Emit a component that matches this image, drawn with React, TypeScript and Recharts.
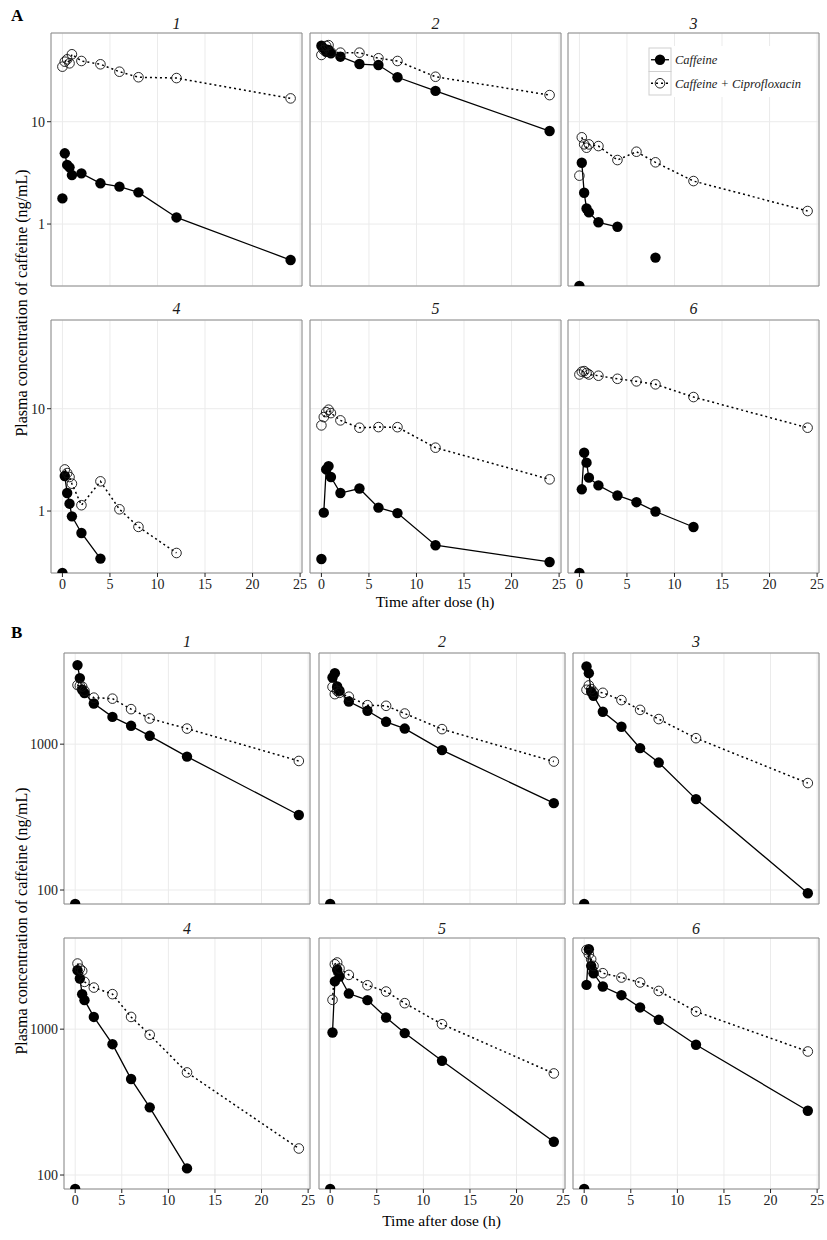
import React from "react";
import {
  ComposedChart,
  Line,
  Scatter,
  XAxis,
  YAxis,
  CartesianGrid,
  ReferenceArea,
} from "recharts";

// ---------- data ----------
const TIMES = [0, 0.25, 0.5, 0.75, 1, 2, 4, 6, 8, 12, 24];
const X_TICKS = [0, 5, 10, 15, 20, 25];
const X_DOMAIN: [number, number] = [-1.2, 25.2];
const PANEL_TITLES = ["1", "2", "3", "4", "5", "6"];
const SERIES_NAMES = ["Caffeine", "Caffeine + Ciprofloxacin"];
const PART_LABELS = ["A", "B"];
const Y_TITLE = "Plasma concentration of caffeine (ng/mL)";
const X_TITLE = "Time after dose (h)";

// Part A (log scale)
const A_Y_TICKS = [1, 10];
const A_Y_DOMAIN: [number, number] = [0.248, 73.6];
const A1_CAF = [1.78, 4.91, 3.78, 3.58, 3.01, 3.13, 2.5, 2.32, 2.04, 1.16, 0.445];
const A1_CIP = [34.5, 38.6, 40.7, 37.2, 45.6, 39.2, 36.4, 30.8, 27.2, 26.7, 16.9];
const A2_CAF = [55.3, 52.1, 48.3, 50.2, 46.6, 43.2, 36.6, 35.8, 27.2, 20.0, 8.11];
const A2_CIP = [44.9, 50.2, 55.0, 56.0, 48.0, 47.3, 47.3, 41.7, 39.2, 27.5, 18.2];
const A3_CAF = [0, 3.97, 2.02, 1.42, 1.3, 1.04, 0.94, null, 0.47, null, null];
const A3_CIP = [2.97, 7.04, 6.01, 5.57, 6.0, 5.78, 4.22, 5.09, 4.01, 2.63, 1.34];
const A4_CAF = [0, 2.2, 1.5, 1.18, 0.887, 0.61, 0.343, null, null, null, null];
const A4_CIP = [null, 2.55, 2.35, 2.15, 1.85, 1.14, 1.95, 1.04, 0.7, 0.389, null];
const A5_CAF = [0.34, 0.964, 2.55, 2.75, 2.15, 1.5, 1.66, 1.08, 0.955, 0.463, 0.318];
const A5_CIP = [6.87, 8.28, 9.27, 9.78, 9.06, 7.69, 6.52, 6.61, 6.6, 4.16, 2.04];
const A6_CAF = [0, 1.63, 3.72, 2.97, 2.12, 1.78, 1.42, 1.22, 0.99, 0.698, null];
const A6_CIP = [21.6, 23.0, 23.3, 22.3, 21.6, 21.0, 19.6, 18.5, 17.3, 13.0, 6.52];

// Part B (log scale)
const B_Y_TICKS = [100, 1000];
const B_Y_DOMAIN: [number, number] = [80.2, 4217];
const B1_CAF = [0, 3483, 2838, 2360, 2240, 1900, 1538, 1336, 1141, 822, 327];
const B1_CIP = [null, 2540, 2512, 2483, 2322, 2084, 2051, 1738, 1499, 1279, 767];
const B2_CAF = [0, 2864, 3069, 2483, 2322, 1960, 1693, 1423, 1279, 910, 394];
const B2_CIP = [null, 2471, 2203, 2322, 2250, 2115, 1850, 1832, 1622, 1268, 760];
const B3_CAF = [0, 3411, 3069, 2285, 2147, 1667, 1316, 939, 748, 420, 95];
const B3_CIP = [null, 2360, 2528, 2383, 2285, 2249, 2005, 1718, 1486, 1099, 541];
const B4_CAF = [0, 2535, 2225, 1738, 1581, 1213, 789, 455, 291, 111, null];
const B4_CIP = [null, 2818, 2600, 2512, 2110, 1928, 1738, 1213, 915, 505, 152];
const B5_CAF = [0, 948, 2125, 2553, 2296, 1754, 1581, 1202, 940, 607, 169];
const B5_CIP = [null, 1589, 2786, 2864, 2606, 2355, 2000, 1811, 1507, 1081, 497];
const B6_CAF = [0, 2011, 3532, 2716, 2419, 1960, 1710, 1409, 1159, 782, 276];
const B6_CIP = [null, 3491, 3264, 3016, 2716, 2419, 2259, 2089, 1828, 1321, 703];

const A_CAF = [A1_CAF, A2_CAF, A3_CAF, A4_CAF, A5_CAF, A6_CAF];
const A_CIP = [A1_CIP, A2_CIP, A3_CIP, A4_CIP, A5_CIP, A6_CIP];
const B_CAF = [B1_CAF, B2_CAF, B3_CAF, B4_CAF, B5_CAF, B6_CAF];
const B_CIP = [B1_CIP, B2_CIP, B3_CIP, B4_CIP, B5_CIP, B6_CIP];

// ---------- styling / layout ----------
const FONT = '"Liberation Serif", "Times New Roman", serif';
const TICK_COLOR = "#222222";
const GRID_COLOR = "#ebebeb";
const BORDER_COLOR = "#8a8a8a";
const X_AXIS_H = 24;
const RIGHT_PAD = 8;

type Layout = {
  lefts: number[];
  tops: number[];
  w: number;
  h: number;
  yW: number;
};
const A_LAYOUT: Layout = { lefts: [51, 310, 568], tops: [33, 320], w: 251, h: 253, yW: 40 };
const B_LAYOUT: Layout = { lefts: [64, 319, 573], tops: [653, 938], w: 246, h: 251, yW: 52 };

type Val = number | null;

function toPoints(arr: Val[], floor: number) {
  const out: { t: number; v: number }[] = [];
  TIMES.forEach((t, i) => {
    const v = arr[i];
    if (v === null || v === undefined) return;
    out.push({ t, v: v === 0 ? floor : v });
  });
  return out;
}

function toLine(arr: Val[]) {
  return TIMES.map((t, i) => ({ t, v: arr[i] }))
    .filter((p) => p.t > 0)
    .map((p) => ({ t: p.t, v: p.v === 0 || p.v === undefined ? null : p.v }));
}

const FilledDot = (p: any) =>
  p.cx == null || p.cy == null ? <g /> : <circle cx={p.cx} cy={p.cy} r={5.2} fill="#000" />;
const OpenDot = (p: any) =>
  p.cx == null || p.cy == null ? (
    <g />
  ) : (
    <circle cx={p.cx} cy={p.cy} r={4.8} fill="none" stroke="#111" strokeWidth={0.9} />
  );

type PanelProps = {
  caf: Val[];
  cip: Val[];
  left: number;
  top: number;
  w: number;
  h: number;
  yDomain: [number, number];
  yTicks: number[];
  showY: boolean;
  showX: boolean;
  yW: number;
};

function Panel({ caf, cip, left, top, w, h, yDomain, yTicks, showY, showX, yW }: PanelProps) {
  const padL = showY ? yW : 1;
  const cw = padL + w + RIGHT_PAD;
  const ch = 1 + h + (showX ? X_AXIS_H : 1);
  const tickStyle = { fill: TICK_COLOR, fontSize: 14, fontFamily: FONT };
  return (
    <div style={{ position: "absolute", left: left - padL, top: top - 1 }}>
      <ComposedChart
        width={cw}
        height={ch}
        margin={{ top: 1, right: RIGHT_PAD, bottom: showX ? 0 : 1, left: showY ? 0 : 1 }}
      >
        <CartesianGrid stroke={GRID_COLOR} strokeWidth={1} />
        <XAxis
          type="number"
          dataKey="t"
          domain={X_DOMAIN}
          ticks={X_TICKS}
          allowDataOverflow
          interval={0}
          hide={!showX}
          height={X_AXIS_H}
          axisLine={false}
          tickLine={{ stroke: TICK_COLOR }}
          tickSize={4}
          tickMargin={2}
          tick={tickStyle}
        />
        <YAxis
          type="number"
          scale="log"
          domain={yDomain}
          ticks={yTicks}
          allowDataOverflow
          interval={0}
          hide={!showY}
          width={yW}
          axisLine={false}
          tickLine={{ stroke: TICK_COLOR }}
          tickSize={4}
          tickMargin={2}
          tick={tickStyle}
        />
        <Line
          data={toLine(caf)}
          dataKey="v"
          type="linear"
          stroke="#000"
          strokeWidth={1.3}
          dot={false}
          activeDot={false}
          connectNulls={false}
          isAnimationActive={false}
        />
        <Line
          data={toLine(cip)}
          dataKey="v"
          type="linear"
          stroke="#000"
          strokeWidth={1.5}
          strokeDasharray="2 3"
          dot={false}
          activeDot={false}
          connectNulls={false}
          isAnimationActive={false}
        />
        <Scatter data={toPoints(caf, yDomain[0])} dataKey="v" shape={FilledDot} isAnimationActive={false} />
        <Scatter data={toPoints(cip, yDomain[0])} dataKey="v" shape={OpenDot} isAnimationActive={false} />
        <ReferenceArea
          x1={X_DOMAIN[0]}
          x2={X_DOMAIN[1]}
          y1={yDomain[0]}
          y2={yDomain[1]}
          fill="none"
          fillOpacity={0}
          stroke={BORDER_COLOR}
          strokeWidth={1}
          ifOverflow="visible"
        />
      </ComposedChart>
    </div>
  );
}

function Part({
  layout,
  caf,
  cip,
  yDomain,
  yTicks,
}: {
  layout: Layout;
  caf: Val[][];
  cip: Val[][];
  yDomain: [number, number];
  yTicks: number[];
}) {
  const panels = [];
  for (let i = 0; i < 6; i++) {
    const r = Math.floor(i / 3);
    const c = i % 3;
    panels.push(
      <Panel
        key={i}
        caf={caf[i]}
        cip={cip[i]}
        left={layout.lefts[c]}
        top={layout.tops[r]}
        w={layout.w}
        h={layout.h}
        yDomain={yDomain}
        yTicks={yTicks}
        showY={c === 0}
        showX={r === 1}
        yW={layout.yW}
      />
    );
  }
  return <>{panels}</>;
}

function TextsFor(layout: Layout, partLabel: string, labelY: number, stripYs: number[], xTitleY: number) {
  const items: React.ReactNode[] = [];
  items.push(
    <text key={partLabel + "lab"} x={11} y={labelY} fontFamily={FONT} fontWeight="bold" fontSize={17} fill="#000">
      {partLabel}
    </text>
  );
  for (let i = 0; i < 6; i++) {
    const r = Math.floor(i / 3);
    const c = i % 3;
    items.push(
      <text
        key={partLabel + "s" + i}
        x={layout.lefts[c] + layout.w / 2}
        y={stripYs[r] + 5.5}
        textAnchor="middle"
        fontFamily={FONT}
        fontStyle="italic"
        fontSize={16}
        fill="#1a1a1a"
      >
        {PANEL_TITLES[i]}
      </text>
    );
  }
  const plotL = layout.lefts[0];
  const plotR = layout.lefts[2] + layout.w;
  const plotT = layout.tops[0];
  const plotB = layout.tops[1] + layout.h;
  items.push(
    <text
      key={partLabel + "xt"}
      x={(plotL + plotR) / 2}
      y={xTitleY + 5}
      textAnchor="middle"
      fontFamily={FONT}
      fontSize={15.5}
      fill="#000"
    >
      {X_TITLE}
    </text>
  );
  const cy = (plotT + plotB) / 2;
  items.push(
    <text
      key={partLabel + "yt"}
      x={21}
      y={cy + 5.5}
      transform={`rotate(-90, 21, ${cy})`}
      textAnchor="middle"
      fontFamily={FONT}
      fontSize={16}
      fill="#000"
    >
      {Y_TITLE}
    </text>
  );
  return items;
}

function LegendBox() {
  const x0 = 649;
  const y0 = 48;
  const kw = 22;
  const kh = 23.5;
  return (
    <g>
      <rect x={x0 - 2} y={y0 - 2} width={157} height={kh * 2 + 4} fill="#fff" />
      {SERIES_NAMES.map((name, i) => {
        const y = y0 + i * kh;
        const cy = y + kh / 2;
        return (
          <g key={name}>
            <rect x={x0} y={y} width={kw} height={kh} fill="#fff" stroke="#cfcfcf" strokeWidth={1} />
            {i === 0 ? (
              <>
                <line x1={x0 + 2} x2={x0 + kw - 2} y1={cy} y2={cy} stroke="#000" strokeWidth={1.3} />
                <circle cx={x0 + kw / 2} cy={cy} r={5.2} fill="#000" />
              </>
            ) : (
              <>
                <line
                  x1={x0 + 2}
                  x2={x0 + kw - 2}
                  y1={cy}
                  y2={cy}
                  stroke="#000"
                  strokeWidth={1.5}
                  strokeDasharray="2 3"
                />
                <circle cx={x0 + kw / 2} cy={cy} r={4.8} fill="none" stroke="#111" strokeWidth={0.9} />
              </>
            )}
            <text
              x={x0 + kw + 4}
              y={cy + 4.3}
              fontFamily={FONT}
              fontStyle="italic"
              fontSize={12.5}
              fill="#1a1a1a"
            >
              {name}
            </text>
          </g>
        );
      })}
    </g>
  );
}

export default function App() {
  return (
    <div
      style={{
        position: "absolute",
        left: 0,
        top: 0,
        width: 827,
        height: 1240,
        background: "#fff",
        overflow: "hidden",
      }}
    >
      <Part layout={A_LAYOUT} caf={A_CAF} cip={A_CIP} yDomain={A_Y_DOMAIN} yTicks={A_Y_TICKS} />
      <Part layout={B_LAYOUT} caf={B_CAF} cip={B_CIP} yDomain={B_Y_DOMAIN} yTicks={B_Y_TICKS} />
      <svg
        width={827}
        height={1240}
        style={{ position: "absolute", left: 0, top: 0, pointerEvents: "none" }}
      >
        {TextsFor(A_LAYOUT, PART_LABELS[0], 21, [23.3, 308.3], 602.3)}
        {TextsFor(B_LAYOUT, PART_LABELS[1], 638, [641.7, 928.3], 1220.7)}
        <LegendBox />
      </svg>
    </div>
  );
}
